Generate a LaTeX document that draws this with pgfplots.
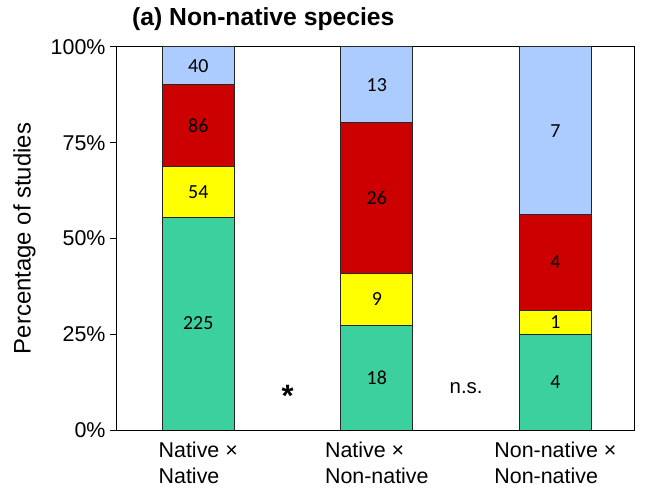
\documentclass[border=0pt]{standalone}
\usepackage{fontspec}
\setmainfont{Liberation Sans}
\newfontfamily\calibri{Carlito}
\usepackage{pgfplots}
\usepackage{pgfplotstable}
\pgfplotsset{compat=1.18}
\definecolor{cgreen}{RGB}{59,208,158}
\definecolor{cyellow}{RGB}{255,255,0}
\definecolor{cred}{RGB}{204,0,0}
\definecolor{cblue}{RGB}{172,204,255}
\pgfplotstableread{
x green yellow red blue
0 55.556 13.333 21.235 9.877
1 27.273 13.636 39.394 19.697
2 25 6.25 25 43.75
}\pct
\pgfplotstableread{
x y label
0 27.78 225
0 62.22 54
0 79.51 86
0 95.06 40
1 13.64 18
1 34.09 9
1 60.61 26
1 90.15 13
2 12.5 4
2 28.125 1
2 43.75 4
2 78.125 7
}\labs
\begin{document}
\begin{tikzpicture}
\pgfplotsset{common/.style={
  scale only axis, width=517bp, height=383bp,
  xmin=-0.455, xmax=2.44, ymin=0, ymax=100}}
\begin{axis}[common,
  clip mode=individual,
  ybar stacked, bar width=72bp,
  axis line style={black, line width=1bp},
  ytick={0,25,50,75,100},
  yticklabels={0\%,25\%,50\%,75\%,100\%},
  tick align=outside, ytick pos=left,
  major tick length=7bp,
  tick style={black, line width=1bp},
  xtick={0,1,2},
  xticklabels={Native ×\\Native, Native ×\\Non-native, Non-native ×\\Non-native},
  x tick style={draw=none},
  xticklabel style={align=left, font=\fontsize{21.5}{27}\selectfont, anchor=north, yshift=-1bp},
  yticklabel style={font=\fontsize{21.5}{24}\selectfont, xshift=-1bp},
  ylabel={Percentage of studies},
  ylabel style={font=\fontsize{24}{28}\selectfont, at={(axis description cs:-0.157,0.5)}, anchor=south, rotate=0, inner sep=0pt},
  every axis plot/.append style={draw=black!85, line width=1bp},
]
\addplot[fill=cgreen] table[x=x,y=green]{\pct};
\addplot[fill=cyellow] table[x=x,y=yellow]{\pct};
\addplot[fill=cred] table[x=x,y=red]{\pct};
\addplot[fill=cblue] table[x=x,y=blue]{\pct};
\node[anchor=base west, font=\fontsize{24.8}{28}\selectfont\bfseries, inner sep=0pt] at (axis description cs:0.029,1.057) {(a) Non-native species};
\node[font=\fontsize{31}{32}\selectfont\bfseries] at (axis cs:0.5,9.0) {*};
\node[font=\fontsize{20.5}{24}\selectfont] at (axis cs:1.5,10.9) {n.s.};
\end{axis}
\begin{axis}[common, hide axis]
\addplot[only marks, mark=*, mark size=0pt, mark options={draw=none, fill=none},
  nodes near coords, point meta=explicit symbolic,
  every node near coord/.append style={anchor=center, font=\calibri\fontsize{20}{22}\selectfont, text=black}]
  table[x=x, y=y, meta=label]{\labs};
\end{axis}
\path (current axis.south west) +(-117bp,-56bp);
\path (current axis.north east) +(17bp,47bp);
\end{tikzpicture}
\end{document}
